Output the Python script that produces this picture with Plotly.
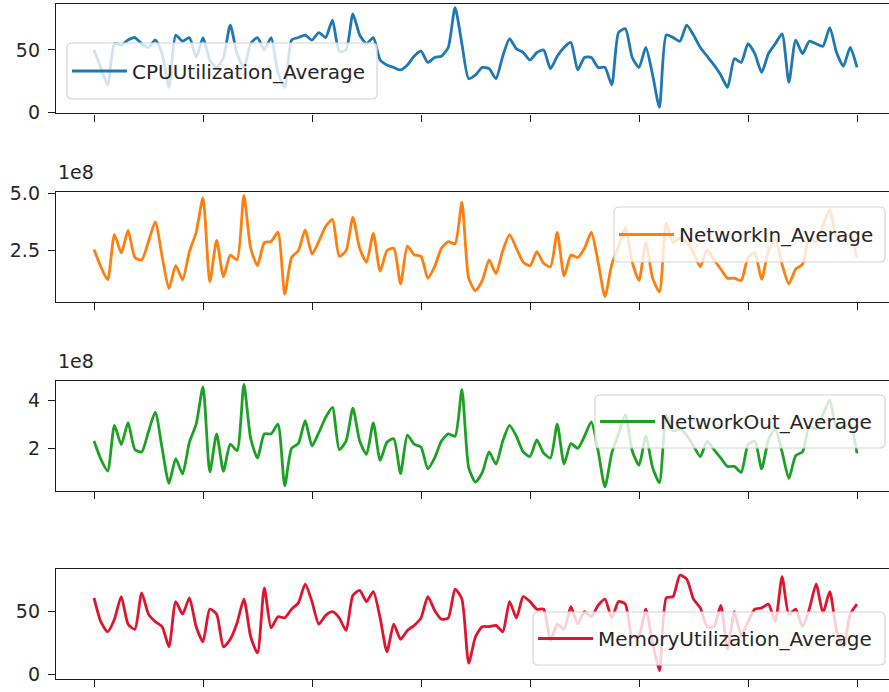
import plotly.graph_objects as go

# Sample index (evenly spaced observations)
n_points = 113
index = list(range(n_points))
tick_positions = [0, 16, 32, 48, 64, 80, 96, 112]

cpu_utilization = [50, 36, 22, 55, 54, 58, 60, 55, 52, 58, 47, 20, 62, 57, 60, 44, 60, 42, 36, 44,
                   70, 47, 36, 55, 60, 50, 60, 32, 20, 58, 60, 62, 58, 64, 60, 74, 49, 50, 79, 62,
                   55, 60, 42, 38, 36, 34, 38, 45, 49, 40, 44, 45, 52, 84, 55, 27, 30, 36, 35, 27,
                   45, 59, 51, 48, 42, 48, 50, 35, 45, 52, 56, 34, 44, 44, 36, 36, 22, 64, 67, 44,
                   36, 52, 30, 4, 62, 60, 57, 70, 62, 52, 45, 38, 30, 20, 43, 40, 55, 47, 32, 47,
                   55, 63, 24, 58, 47, 57, 55, 53, 68, 48, 37, 52, 36]

# Network traffic in units of 1e8 bytes
network_in = [2.55, 1.80, 1.23, 3.20, 2.40, 3.38, 2.20, 2.10, 2.90, 3.75, 2.24, 0.85, 1.85, 1.23, 2.45,
              3.30, 4.80, 1.14, 2.95, 1.36, 2.30, 2.10, 4.90, 2.60, 1.85, 2.85, 2.90, 3.30, 0.60, 2.20,
              2.50, 3.40, 2.35, 2.90, 3.55, 3.86, 2.25, 2.50, 3.95, 2.60, 2.00, 3.25, 1.60, 2.50, 2.60,
              1.05, 2.70, 2.32, 2.25, 1.30, 1.80, 2.60, 2.89, 2.80, 4.60, 1.30, 0.75, 1.20, 2.10, 1.50,
              2.50, 3.20, 2.60, 2.00, 1.84, 2.45, 1.95, 1.80, 3.29, 1.40, 2.30, 2.20, 2.60, 3.30, 2.00,
              0.50, 1.90, 2.70, 3.50, 2.00, 1.20, 2.85, 1.30, 0.70, 3.70, 2.85, 3.05, 2.85, 2.40, 1.80,
              2.54, 2.10, 1.70, 1.30, 1.30, 1.20, 2.20, 2.40, 1.25, 2.50, 3.00, 1.90, 1.05, 1.70, 1.90,
              3.05, 2.85, 3.60, 4.30, 3.10, 3.10, 3.20, 2.19]

network_out = [2.30, 1.55, 1.06, 2.95, 2.15, 3.06, 1.95, 1.85, 2.70, 3.50, 2.00, 0.55, 1.57, 0.94, 2.25,
               3.00, 4.55, 1.02, 2.60, 1.05, 2.17, 1.90, 4.65, 2.40, 1.60, 2.60, 2.60, 3.00, 0.45, 2.00,
               2.20, 3.15, 2.10, 2.65, 3.28, 3.70, 1.95, 2.30, 3.66, 2.30, 1.75, 3.05, 1.50, 2.25, 2.40,
               0.95, 2.55, 2.17, 2.05, 1.15, 1.60, 2.30, 2.60, 2.50, 4.43, 1.20, 0.60, 1.00, 1.85, 1.35,
               2.30, 2.95, 2.50, 1.85, 1.66, 2.35, 1.80, 1.60, 3.00, 1.35, 2.20, 2.00, 2.50, 3.10, 1.90,
               0.40, 1.80, 2.60, 3.40, 1.90, 1.30, 2.50, 1.20, 0.58, 3.40, 2.72, 2.80, 2.55, 2.10, 1.66,
               2.30, 1.95, 1.60, 1.25, 1.25, 1.00, 2.15, 2.30, 1.15, 2.35, 2.80, 1.85, 0.75, 1.70, 1.85,
               2.90, 2.80, 3.40, 4.00, 2.85, 2.90, 3.00, 1.79]

memory_utilization = [61, 42, 34, 44, 62, 40, 36, 65, 48, 42, 38, 22, 58, 48, 61, 38, 26, 52, 48, 22,
                      28, 41, 60, 30, 17, 69, 37, 46, 45, 52, 57, 72, 58, 40, 47, 50, 45, 35, 63, 67,
                      58, 66, 45, 18, 40, 28, 35, 39, 45, 62, 51, 44, 45, 68, 60, 9, 30, 38, 38, 39,
                      34, 58, 45, 62, 58, 52, 52, 27, 40, 36, 54, 40, 50, 46, 55, 60, 45, 58, 56, 30,
                      31, 52, 25, 3, 61, 62, 79, 76, 60, 53, 38, 38, 55, 20, 50, 31, 42, 52, 53, 56,
                      42, 78, 48, 52, 38, 52, 72, 49, 66, 35, 22, 48, 56]

NET_SCALE = 1e8
W, H = 889, 692

series = [
    ("CPUUtilization_Average", cpu_utilization, 1, "#1f77b4"),
    ("NetworkIn_Average", [v * NET_SCALE for v in network_in], NET_SCALE, "#ff7f0e"),
    ("NetworkOut_Average", [v * NET_SCALE for v in network_out], NET_SCALE, "#1ca124"),
    ("MemoryUtilization_Average", memory_utilization, 1, "#e0142c"),
]

# Panel frames in pixels (top, bottom) and y ranges in data units (scaled)
panel_px = [(4, 113.3), (192.3, 301.7), (381, 490.7), (569, 679)]
y_ranges = [(-0.8, 86.9), (0.275, 5.04), (0.244, 4.79), (-3.7, 84.0)]
y_ticks = [([0, 50], ["0", "50"]), ([2.5, 5.0], ["2.5", "5.0"]),
           ([2, 4], ["2", "4"]), ([0, 50], ["0", "50"])]
# Legend frames in pixels: left, top, right, bottom
legend_box = [(67, 43, 377, 99), (614, 207, 885, 262), (595, 395, 885, 448), (533, 612, 885, 665)]

left_px = 56
x_first_px, x_last_px = 94, 857
px_per_pt = (x_last_px - x_first_px) / (n_points - 1)
x_range = [-(x_first_px - left_px) / px_per_pt, (n_points - 1) + (W - x_last_px) / px_per_pt]

FONT = "DejaVu Sans, Liberation Sans, sans-serif"
TEXT = "#262626"
AXIS = "#1a1a1a"


def rounded_rect(x0, y0, x1, y1, r):
    """SVG path in paper fractions for a pixel rectangle with rounded corners."""
    def px(x):
        return x / W

    def py(y):
        return (H - y) / H
    return (f"M{px(x0 + r)},{py(y0)} L{px(x1 - r)},{py(y0)} "
            f"Q{px(x1)},{py(y0)} {px(x1)},{py(y0 + r)} L{px(x1)},{py(y1 - r)} "
            f"Q{px(x1)},{py(y1)} {px(x1 - r)},{py(y1)} L{px(x0 + r)},{py(y1)} "
            f"Q{px(x0)},{py(y1)} {px(x0)},{py(y1 - r)} L{px(x0)},{py(y0 + r)} "
            f"Q{px(x0)},{py(y0)} {px(x0 + r)},{py(y0)} Z")


fig = go.Figure()
layout = dict(
    width=W, height=H, margin=dict(l=0, r=0, t=0, b=0, autoexpand=False),
    paper_bgcolor="white", plot_bgcolor="white",
    font=dict(family=FONT, size=19, color=TEXT),
    showlegend=True,
)
shapes = []

for k, (name, values, scale, color) in enumerate(series):
    sfx = "" if k == 0 else str(k + 1)
    leg = "legend" if k == 0 else f"legend{k + 1}"
    fig.add_trace(go.Scatter(
        x=index, y=values, mode="lines", name=name,
        line=dict(color=color, width=2.8, shape="spline", smoothing=0.6),
        xaxis=f"x{sfx}", yaxis=f"y{sfx}", legend=leg,
    ))
    top, bot = panel_px[k]
    layout[f"xaxis{sfx}"] = dict(
        domain=[left_px / W, 1], range=x_range, anchor=f"y{sfx}", automargin=False,
        showgrid=False, zeroline=False, showline=True, mirror=True,
        linecolor=AXIS, linewidth=1.4,
        tickmode="array", tickvals=tick_positions, showticklabels=False,
        ticks="outside", ticklen=7, tickwidth=1.3, tickcolor=AXIS,
    )
    tv, tt = y_ticks[k]
    lo, hi = y_ranges[k]
    layout[f"yaxis{sfx}"] = dict(
        domain=[(H - bot) / H, (H - top) / H], anchor=f"x{sfx}", automargin=False,
        range=[lo * scale, hi * scale],
        showgrid=False, zeroline=False, showline=True, mirror=False,
        linecolor=AXIS, linewidth=1.4,
        tickmode="array", tickvals=[v * scale for v in tv], ticktext=tt,
        ticks="outside", ticklen=7, tickwidth=1.3, tickcolor=AXIS,
        ticklabelstandoff=4,
        tickfont=dict(family=FONT, size=19, color=TEXT),
    )
    bx0, by0, bx1, by1 = legend_box[k]
    shapes.append(dict(
        type="path", xref="paper", yref="paper", layer="above",
        path=rounded_rect(bx0, by0, bx1, by1, 5),
        fillcolor="rgba(255,255,255,0.8)", line=dict(color="#d6d6d6", width=1.2),
    ))
    layout[leg] = dict(
        x=bx0 / W, y=(H - (by0 + by1) / 2) / H, xanchor="left", yanchor="middle",
        xref="paper", yref="paper",
        bgcolor="rgba(0,0,0,0)", borderwidth=0,
        font=dict(family=FONT, size=20, color=TEXT),
        itemwidth=55,
    )

layout["shapes"] = shapes
fig.update_layout(**layout)

# Scientific offset labels above the network panels
for ypx in (172, 361):
    fig.add_annotation(
        text="1e8", x=left_px / W, y=(H - ypx) / H, xref="paper", yref="paper",
        xanchor="left", yanchor="middle", showarrow=False,
        font=dict(family=FONT, size=19, color=TEXT),
    )

fig.write_html("out.html")
